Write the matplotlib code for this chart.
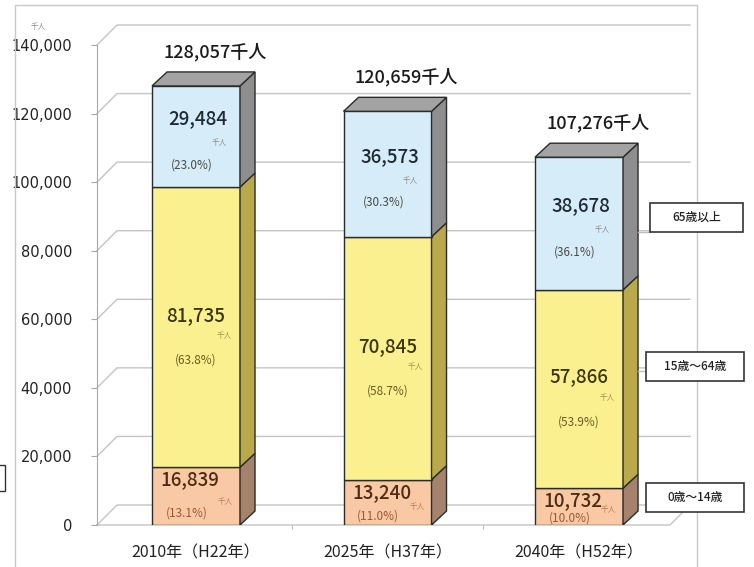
import matplotlib.pyplot as plt
from matplotlib.patches import Polygon, Rectangle

plt.rcParams['font.family'] = ['Noto Sans CJK JP', 'DejaVu Sans']

# data (thousand persons)
years = ['2010年（H22年）', '2025年（H37年）', '2040年（H52年）']
age_0_14 = [16839, 13240, 10732]
age_15_64 = [81735, 70845, 57866]
age_65_up = [29484, 36573, 38678]
pct_0_14 = ['13.1%', '11.0%', '10.0%']
pct_15_64 = ['63.8%', '58.7%', '53.9%']
pct_65_up = ['23.0%', '30.3%', '36.1%']
totals = [128057, 120659, 107276]
legend_names = ['65歳以上', '15歳～64歳', '0歳～14歳']

W, H = 754, 567
fig = plt.figure(figsize=(W / 100, H / 100), dpi=100)

def fx(x):
    return x / W

def fy(y):
    return 1 - y / H

# axes = front plane of the 3d chart
ax = fig.add_axes([fx(97), fy(525), (670 - 97) / W, (525 - 45) / H])
xmin, xmax = -0.517, 2.475
ax.set_xlim(xmin, xmax)
ax.set_ylim(0, 140000)

px_x = (670 - 97) / (xmax - xmin)      # px per x unit
px_y = (525 - 45) / 140000             # px per y unit
wall_dx, wall_dy = 20 / px_x, 20 / px_y  # depth of back wall
bar_dx, bar_dy = 15 / px_x, 14 / px_y    # depth of bars
bw = 88 / px_x

grid_c = '#c4c4c4'
yt = list(range(20000, 140001, 20000))
for v in yt:
    ax.plot([xmin, xmin + wall_dx, xmax + wall_dx], [v, v + wall_dy, v + wall_dy],
            color=grid_c, lw=1, clip_on=False, zorder=1)
# floor
ax.plot([xmin, xmin + wall_dx, xmax + wall_dx, xmax, xmin],
        [0, wall_dy, wall_dy, 0, 0], color=grid_c, lw=1, clip_on=False, zorder=1)

for s in ['top', 'right', 'bottom']:
    ax.spines[s].set_visible(False)
ax.spines['left'].set_color('#a8a8a8')
ax.set_yticks([0] + yt)
ax.set_yticklabels([f'{v:,}' for v in [0] + yt], fontsize=10.5, color='#222222',
                   family=['DejaVu Sans'])
ax.tick_params(axis='y', length=4, color='#a8a8a8', pad=14)
x = list(range(len(years)))
ax.set_xticks(x)
ax.set_xticklabels(years, fontsize=11.5, color='#222222')
ax.tick_params(axis='x', length=0, pad=14)
ax.set_xticks([0.5, 1.5], minor=True)
ax.tick_params(axis='x', which='minor', length=3, color='#a8a8a8')

front = ['#f9c9a5', '#faf08f', '#d6ecf8']
side = ['#a5826b', '#b9a94a', '#8e8e8e']
top_c = '#a3a3a3'
edge = '#2b2b2b'
series = [age_0_14, age_15_64, age_65_up]
num_w = 'medium'

for i in x:
    bottom = 0
    for k, vals in enumerate(series):
        v = vals[i]
        ax.bar(i, v, bw, bottom=bottom, color=front[k], edgecolor=edge, lw=1, zorder=3)
        xr = i + bw / 2
        ax.add_patch(Polygon([(xr, bottom), (xr + bar_dx, bottom + bar_dy),
                              (xr + bar_dx, bottom + v + bar_dy), (xr, bottom + v)],
                             closed=True, fc=side[k], ec=edge, lw=1, zorder=3))
        bottom += v
    xl = i - bw / 2
    ax.add_patch(Polygon([(xl, bottom), (xl + bar_dx, bottom + bar_dy),
                          (xr + bar_dx, bottom + bar_dy), (xr, bottom)],
                         closed=True, fc=top_c, ec=edge, lw=1, zorder=3))
    ax.text(i + 0.1, totals[i] + 9900, f'{totals[i]:,}千人', ha='center', va='center',
            fontsize=13, color='#1a1a1a', fontweight='medium', zorder=5)

    # 65+ labels
    b = age_0_14[i] + age_15_64[i]
    mid = b + age_65_up[i] / 2
    ax.text(i + 0.01, mid + 5200, f'{age_65_up[i]:,}', ha='center', va='center',
            fontsize=13.5, color='#1e2a33', fontweight=num_w, zorder=5)
    ax.text(i + 0.12, mid - 2000, '千人', ha='center', va='center', fontsize=5.5,
            color='#8a8a8a', zorder=5)
    ax.text(i - 0.02, mid - 8200, f'({pct_65_up[i]})', ha='center', va='center',
            fontsize=8.5, color='#4a4a4a', zorder=5)

    # 15-64 labels
    mid = age_0_14[i] + age_15_64[i] / 2
    ax.text(i, mid + 3500, f'{age_15_64[i]:,}', ha='center', va='center',
            fontsize=13.5, color='#3d3510', fontweight=num_w, zorder=5)
    ax.text(i + 0.145, mid - 2500, '千人', ha='center', va='center', fontsize=5.5,
            color='#a09050', zorder=5)
    ax.text(i, mid - 9500, f'({pct_15_64[i]})', ha='center', va='center',
            fontsize=8.5, color='#6d5c22', zorder=5)

    # 0-14 labels
    t = age_0_14[i]
    ax.text(i - 0.03, t - 3700, f'{t:,}', ha='center', va='center',
            fontsize=13.5, color='#4e2c12', fontweight=num_w, zorder=5)
    ax.text(i + 0.155, t * 0.4, '千人', ha='center', va='center', fontsize=5.5,
            color='#c07850', zorder=5)
    ax.text(i - 0.05, t * 0.2, f'({pct_0_14[i]})', ha='center', va='center',
            fontsize=8.5, color='#9a5a30', zorder=5)

# unit label over y axis
fig.text(fx(38), fy(27), '千人', ha='center', va='center', fontsize=5.5, color='#8a8a8a')

# outer frame of plot area
fig.add_artist(Rectangle((fx(15), fy(600)), fx(697 - 15), (600 - 5) / H,
                         fill=False, ec='#c8c8c8', lw=1, transform=fig.transFigure))
# cut off box at left edge
fig.add_artist(Rectangle((fx(-90), fy(491)), fx(95), 26 / H,
                         fill=False, ec='#333333', lw=1, transform=fig.transFigure))

# legend boxes with leader lines
boxes = [(650, 203, 93, 29), (646, 352, 98, 29), (646, 483, 98, 29)]
for name, (bx, by, bwid, bh) in zip(legend_names, boxes):
    fig.add_artist(Rectangle((fx(bx), fy(by + bh)), bwid / W, bh / H, fc='white',
                             ec='#333333', lw=1.2, transform=fig.transFigure, zorder=6))
    fig.text(fx(bx + bwid / 2), fy(by + bh / 2), name, ha='center', va='center',
             fontsize=8.5, color='#222222', fontweight='medium', zorder=7)
fig.add_artist(plt.Line2D([fx(638), fx(650)], [fy(232), fy(232)], color='#bdbdbd', lw=1))
fig.add_artist(plt.Line2D([fx(638), fx(646)], [fy(371), fy(371)], color='#bdbdbd', lw=1))

fig.savefig('out.png', dpi=100)
